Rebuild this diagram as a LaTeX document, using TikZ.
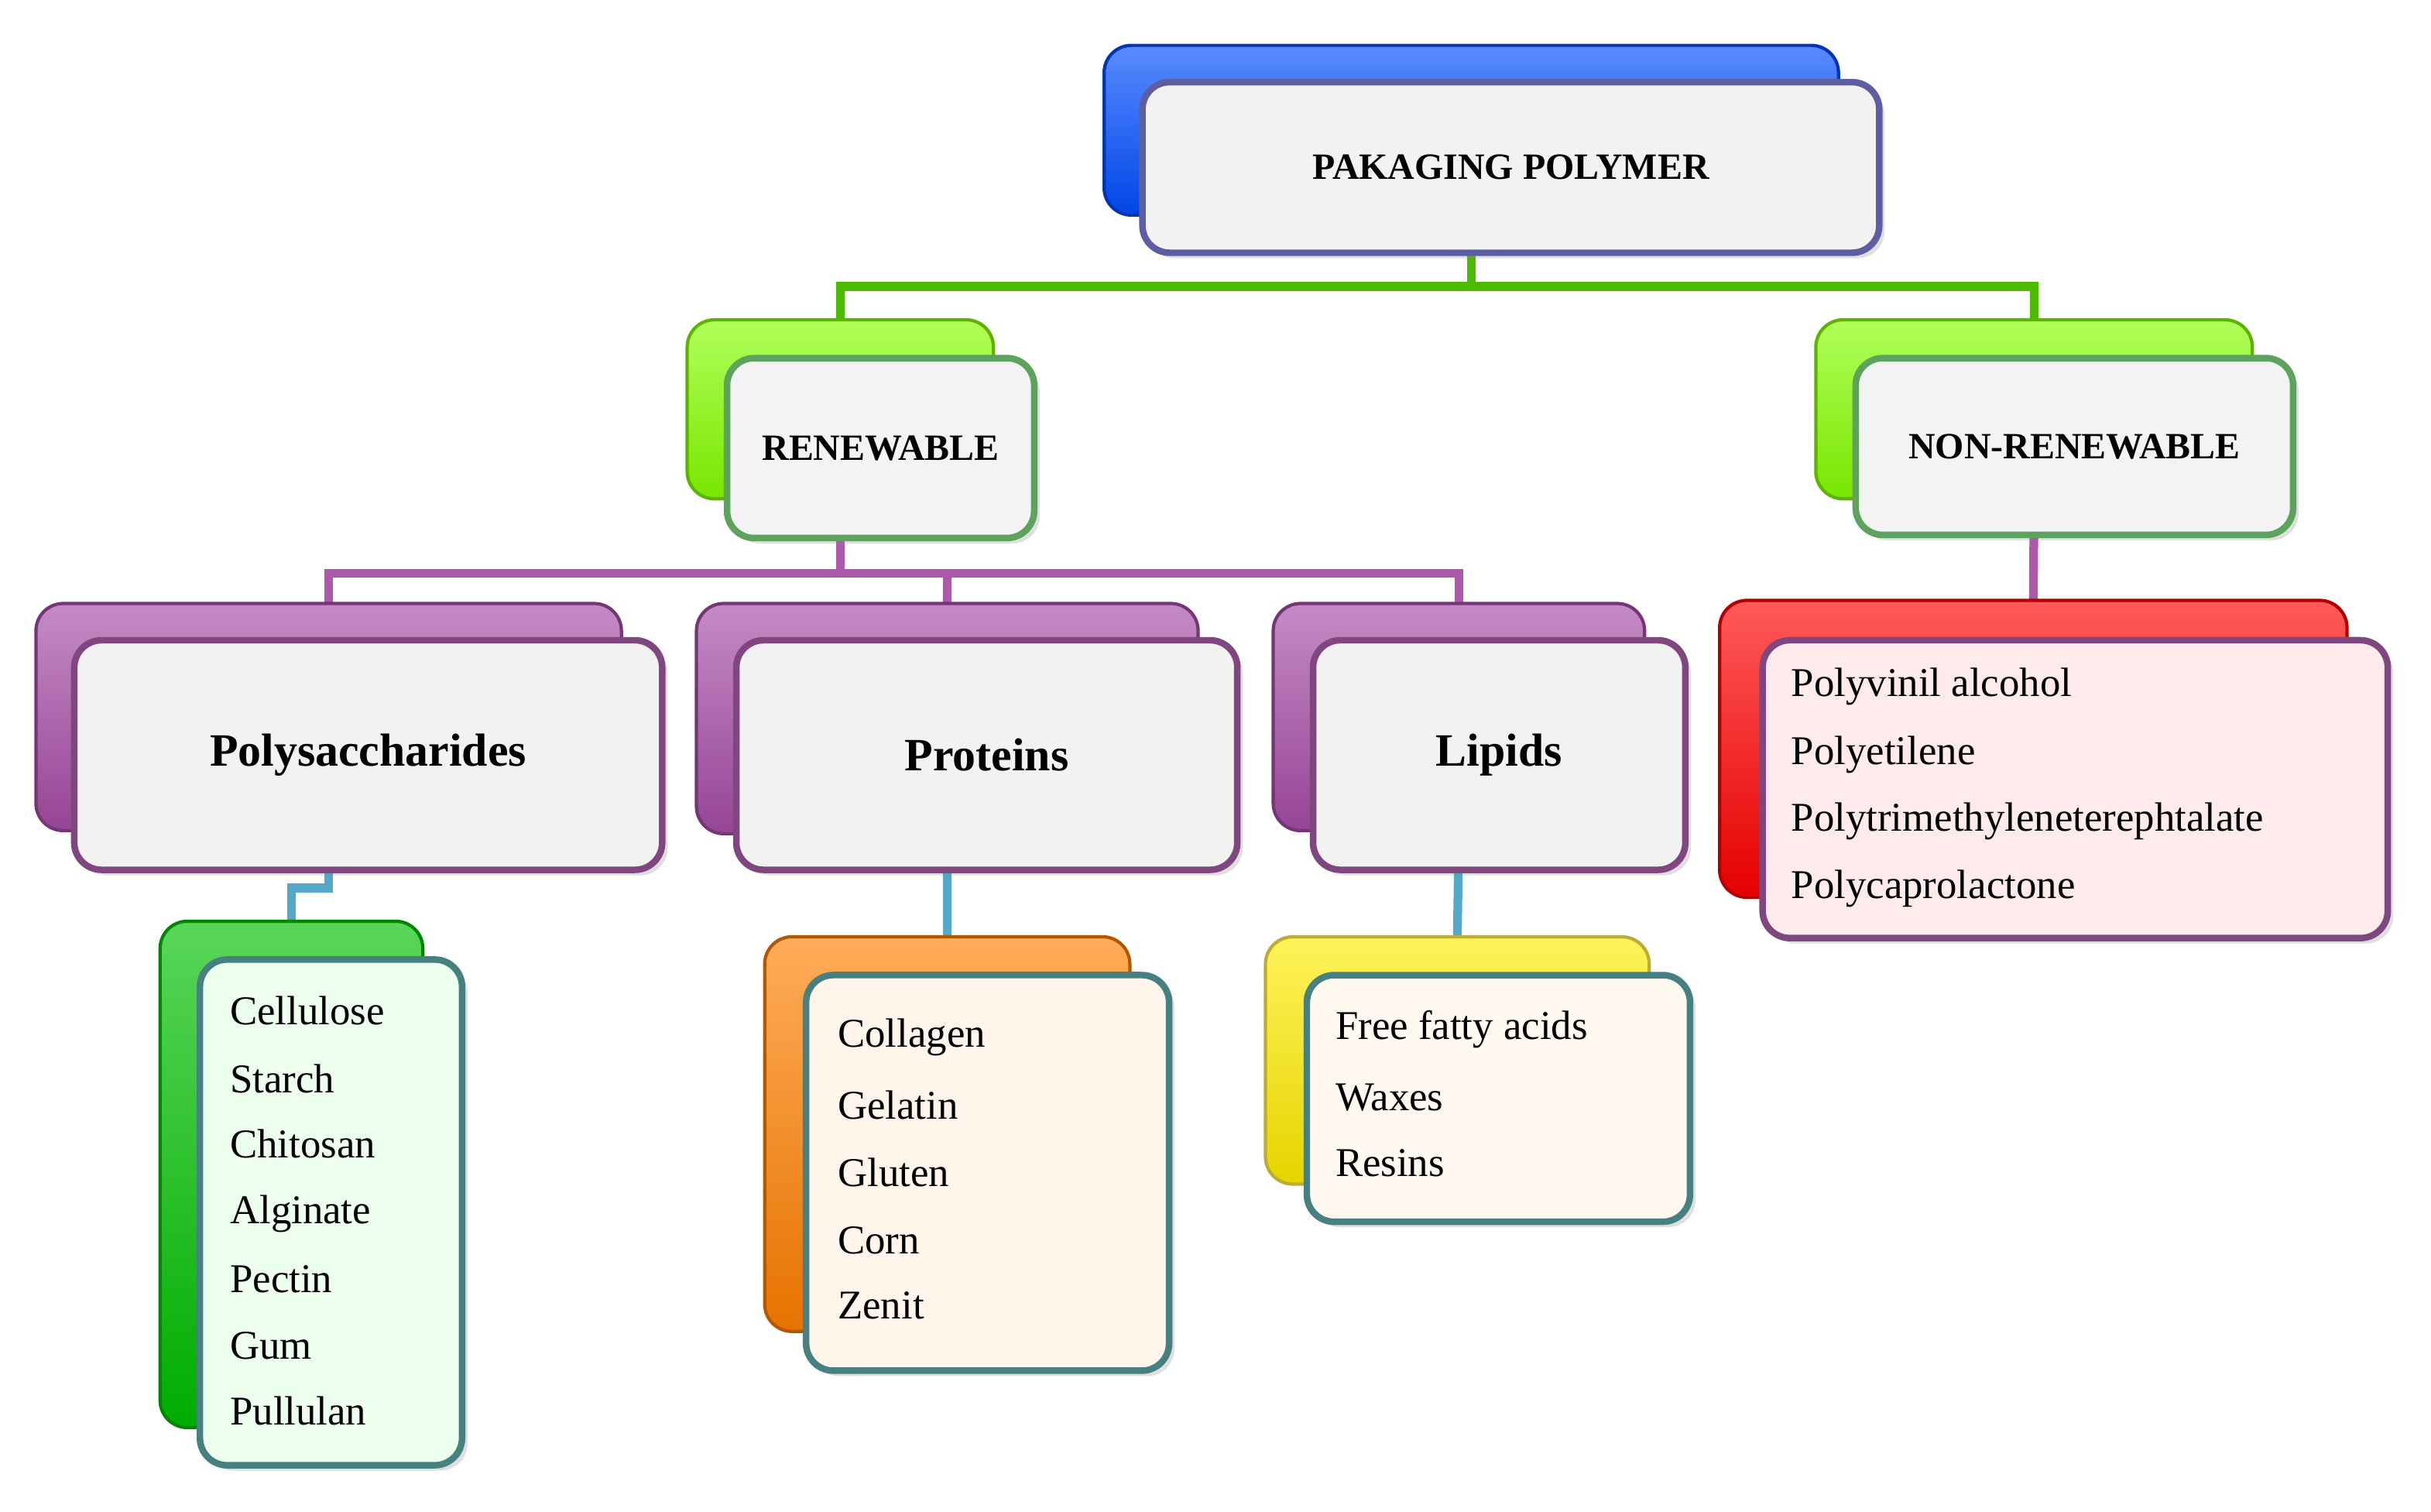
\documentclass[tikz,border=0pt]{standalone}
\usepackage{fontspec}
\setmainfont{Liberation Serif}
\usetikzlibrary{shadows}
\begin{document}
\begin{tikzpicture}[x=0.01cm,y=-0.01cm,
 bk/.style={rounded corners=5pt, draw=#1!70!black, line width=0.6pt, top color=#1!65!white, bottom color=#1!90!black},
 fr/.style={rounded corners=5pt, draw=#1!45!gray, line width=1.2pt, fill=#1!6!gray!8!white, drop shadow={opacity=0.25,shadow xshift=1pt,shadow yshift=-1pt}},
 gline/.style={draw=green!55!black!60!lime, line width=1.6pt},
 pline/.style={draw=violet!65!white, line width=1.6pt},
 cline/.style={draw=cyan!75!black!80!white, line width=1.6pt},
 ttl/.style={font=\bfseries\fontsize{6.8}{8}\selectfont},
 hd/.style={font=\bfseries\fontsize{8.5}{10}\selectfont},
 it/.style={anchor=west,font=\fontsize{7.5}{9}\selectfont}]
\useasboundingbox (0,0) rectangle (1568,975);
\node[minimum width=4.72cm,minimum height=1.08cm] (topb) at (949,84) {};
\node[minimum width=1.96cm,minimum height=1.14cm] (renb) at (542,264) {};
\node[minimum width=2.80cm,minimum height=1.14cm] (nonb) at (1312,264) {};
\node[minimum width=3.76cm,minimum height=1.45cm] (polyb) at (212,462.5) {};
\node[minimum width=3.22cm,minimum height=1.47cm] (protb) at (611,463.5) {};
\node[minimum width=2.38cm,minimum height=1.45cm] (lipb) at (941,462.5) {};
\node[minimum width=4.03cm,minimum height=1.90cm] (redb) at (1311.5,483) {};
\node[minimum width=1.68cm,minimum height=3.25cm] (greenb) at (188,757.5) {};
\node[minimum width=2.34cm,minimum height=2.53cm] (orangeb) at (611,731.5) {};
\node[minimum width=2.46cm,minimum height=1.58cm] (yellowb) at (940,684) {};
\draw[gline] (topb.south) -- ++(0,46) coordinate (gm) -| (renb.north);
\draw[gline] (gm) -| (nonb.north);
\draw[pline] (renb.south) -- ++(0,48) coordinate (pm) -| (polyb.north);
\draw[pline] (pm) -| (protb.north);
\draw[pline] (pm) -| (lipb.north);
\draw[pline] (nonb.south) -- (redb.north);
\draw[cline] (polyb.south) -- ++(0,37) -| (greenb.north);
\draw[cline] (protb.south) -- (orangeb.north);
\draw[cline] (lipb.south) -- (yellowb.north);
\path[bk=blue!70!cyan] (topb.south west) rectangle (topb.north east);
\path[bk=lime!70!green] (renb.south west) rectangle (renb.north east);
\path[bk=lime!70!green] (nonb.south west) rectangle (nonb.north east);
\path[bk=violet!70!white] (polyb.south west) rectangle (polyb.north east);
\path[bk=violet!70!white] (protb.south west) rectangle (protb.north east);
\path[bk=violet!70!white] (lipb.south west) rectangle (lipb.north east);
\path[bk=red] (redb.south west) rectangle (redb.north east);
\path[bk=green!75!black] (greenb.south west) rectangle (greenb.north east);
\path[bk=orange] (orangeb.south west) rectangle (orangeb.north east);
\path[bk=yellow!85!orange] (yellowb.south west) rectangle (yellowb.north east);
\node[fr=blue!60!gray,fill=blue!5!gray!10!white,minimum width=4.75cm,minimum height=1.10cm,ttl] (topf) at (974.5,108) {PAKAGING POLYMER};
\node[fr=green!60!gray,fill=green!5!gray!10!white,minimum width=1.98cm,minimum height=1.16cm,ttl] (renf) at (568,289) {RENEWABLE};
\node[fr=green!60!gray,fill=green!5!gray!10!white,minimum width=2.82cm,minimum height=1.14cm,ttl] (nonf) at (1338,288) {NON-RENEWABLE};
\node[fr=violet,fill=violet!5!gray!10!white,minimum width=3.79cm,minimum height=1.48cm,hd] (polyf) at (237.5,487) {Polysaccharides};
\node[fr=violet,fill=violet!5!gray!10!white,minimum width=3.23cm,minimum height=1.48cm,hd] (protf) at (636.5,487) {Proteins};
\node[fr=violet,fill=violet!5!gray!10!white,minimum width=2.40cm,minimum height=1.48cm,hd] (lipf) at (967,487) {Lipids};
\node[fr=violet,fill=red!8!white,minimum width=4.03cm,minimum height=1.92cm] (redf) at (1338.5,509) {};
\node[fr=teal,fill=green!7!white,minimum width=1.69cm,minimum height=3.26cm] (greenf) at (213.5,782) {};
\node[fr=teal,fill=orange!8!white,minimum width=2.34cm,minimum height=2.55cm] (orangef) at (637,756.5) {};
\node[fr=teal,fill=yellow!8!orange!5!white,minimum width=2.47cm,minimum height=1.59cm] (yellowf) at (966.5,708.5) {};
\node[it] (r1) at (1143,443) {Polyvinil alcohol};
\node[it] (r2) at (1143,487) {Polyetilene};
\node[it] (r3) at (1143,530) {Polytrimethyleneterephtalate};
\node[it] (r4) at (1143,573) {Polycaprolactone};
\node[it] (g1) at (136,652) {Cellulose};
\node[it] (g2) at (136,696) {Starch};
\node[it] (g3) at (136,738) {Chitosan};
\node[it] (g4) at (136,783) {Alginate};
\node[it] (g5) at (136,825) {Pectin};
\node[it] (g6) at (136,868) {Gum};
\node[it] (g7) at (136,910) {Pullulan};
\node[it] (o1) at (528,669) {Collagen};
\node[it] (o2) at (528,713) {Gelatin};
\node[it] (o3) at (528,756) {Gluten};
\node[it] (o4) at (528,800) {Corn};
\node[it] (o5) at (528,842) {Zenit};
\node[it] (y1) at (849,664) {Free fatty acids};
\node[it] (y2) at (849,708) {Waxes};
\node[it] (y3) at (849,750) {Resins};
\end{tikzpicture}
\end{document}
